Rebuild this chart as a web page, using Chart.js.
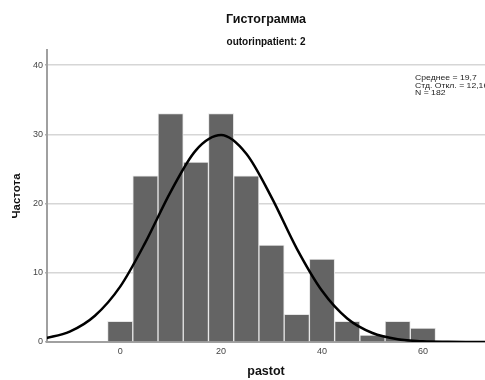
<!DOCTYPE html>
<html>
<head>
<meta charset="utf-8">
<script src="https://cdn.jsdelivr.net/npm/chart.js@4/dist/chart.umd.min.js"></script>
<style>
  html, body { margin: 0; padding: 0; background: #fff; }
  #wrap { width: 485px; height: 380px; }
</style>
</head>
<body>
<div id="wrap"><canvas id="hist" width="485" height="380"></canvas></div>
<script>
// histogram bins (centers) and counts
const binCenters = [0, 5, 10, 15, 20, 25, 30, 35, 40, 45, 50, 55, 60];
const counts = [3, 24, 33, 26, 33, 24, 14, 4, 12, 3, 1, 3, 2];

// normal curve
const curveX = [-15, -10, -5, 0, 5, 10, 15, 20, 25, 30, 35, 40, 45, 50, 55, 60, 65, 70, 75];
const curveY = [0.5, 1.5, 3.8, 8.0, 14.4, 21.7, 27.7, 29.9, 27.2, 20.9, 13.5, 7.4, 3.4, 1.3, 0.4, 0.1, 0.03, 0.01, 0];

const xTicks = [0, 20, 40, 60];
const yTicks = [0, 10, 20, 30, 40];

const statLines = ["Среднее = 19,7", "Стд. Откл. = 12,16", "N = 182"];

const FONT = "'Liberation Sans', Arial, sans-serif";

const statsBox = {
  id: "statsBox",
  afterDraw(chart) {
    const ctx = chart.ctx;
    ctx.save();
    ctx.font = "8px " + FONT;
    ctx.fillStyle = "#222";
    ctx.textBaseline = "middle";
    ctx.translate(415, 0);
    ctx.scale(1.08, 1);
    statLines.forEach((t, i) => ctx.fillText(t, 0, 78 + i * 7.5));
    ctx.restore();
  }
};

const bg = {
  id: "bg",
  beforeDraw(chart) {
    const ctx = chart.ctx;
    ctx.save();
    ctx.fillStyle = "#fff";
    ctx.fillRect(0, 0, chart.width, chart.height);
    ctx.restore();
  }
};

new Chart(document.getElementById("hist"), {
  type: "bar",
  data: {
    datasets: [
      {
        type: "line",
        data: curveX.map((x, i) => ({ x: x, y: curveY[i] })),
        borderColor: "#000",
        borderWidth: 2.5,
        pointRadius: 0,
        cubicInterpolationMode: "monotone",
        order: 0
      },
      {
        data: binCenters.map((x, i) => ({ x: x, y: counts[i] })),
        backgroundColor: "#646464",
        borderColor: "#e6e6e6",
        borderWidth: 1,
        barPercentage: 1,
        categoryPercentage: 1,
        order: 1
      }
    ]
  },
  options: {
    responsive: false,
    animation: false,
    layout: { padding: 0 },
    plugins: {
      legend: { display: false },
      tooltip: { enabled: false },
      title: {
        display: true,
        fullSize: false,
        text: "Гистограмма",
        color: "#111",
        font: { family: FONT, size: 12.5, weight: "bold" },
        padding: { top: 12.5, bottom: 4 }
      },
      subtitle: {
        display: true,
        fullSize: false,
        text: "outorinpatient: 2",
        color: "#111",
        font: { family: FONT, size: 10, weight: "bold" },
        padding: { top: 4.5, bottom: 2 }
      }
    },
    scales: {
      x: {
        type: "linear",
        min: -14.5,
        max: 72.3,
        offset: false,
        afterBuildTicks: (s) => { s.ticks = xTicks.map((v) => ({ value: v })); },
        afterFit: (s) => { s.height = 38; },
        grid: { display: false, drawTicks: false, offset: false },
        border: { display: true, color: "#a0a0a0", width: 2 },
        ticks: { color: "#444", font: { family: FONT, size: 9 }, padding: 4, maxRotation: 0 },
        title: {
          display: true,
          text: "pastot",
          color: "#111",
          font: { family: FONT, size: 12.5, weight: "bold" },
          padding: { top: 0, bottom: 0.5 }
        }
      },
      y: {
        min: 0,
        max: 42.2,
        afterBuildTicks: (s) => { s.ticks = yTicks.map((v) => ({ value: v })); },
        afterFit: (s) => { s.width = 47; },
        grid: { color: "#d6d6d6", lineWidth: 1.5, tickLength: 2, tickColor: "#b0b0b0" },
        border: { display: true, color: "#a0a0a0", width: 2 },
        ticks: { color: "#444", font: { family: FONT, size: 9 }, padding: 2 },
        title: {
          display: true,
          text: "Частота",
          color: "#111",
          font: { family: FONT, size: 11.5, weight: "bold" },
          padding: { top: 9.5, bottom: 0 }
        }
      }
    }
  },
  plugins: [bg, statsBox]
});
</script>
</body>
</html>
